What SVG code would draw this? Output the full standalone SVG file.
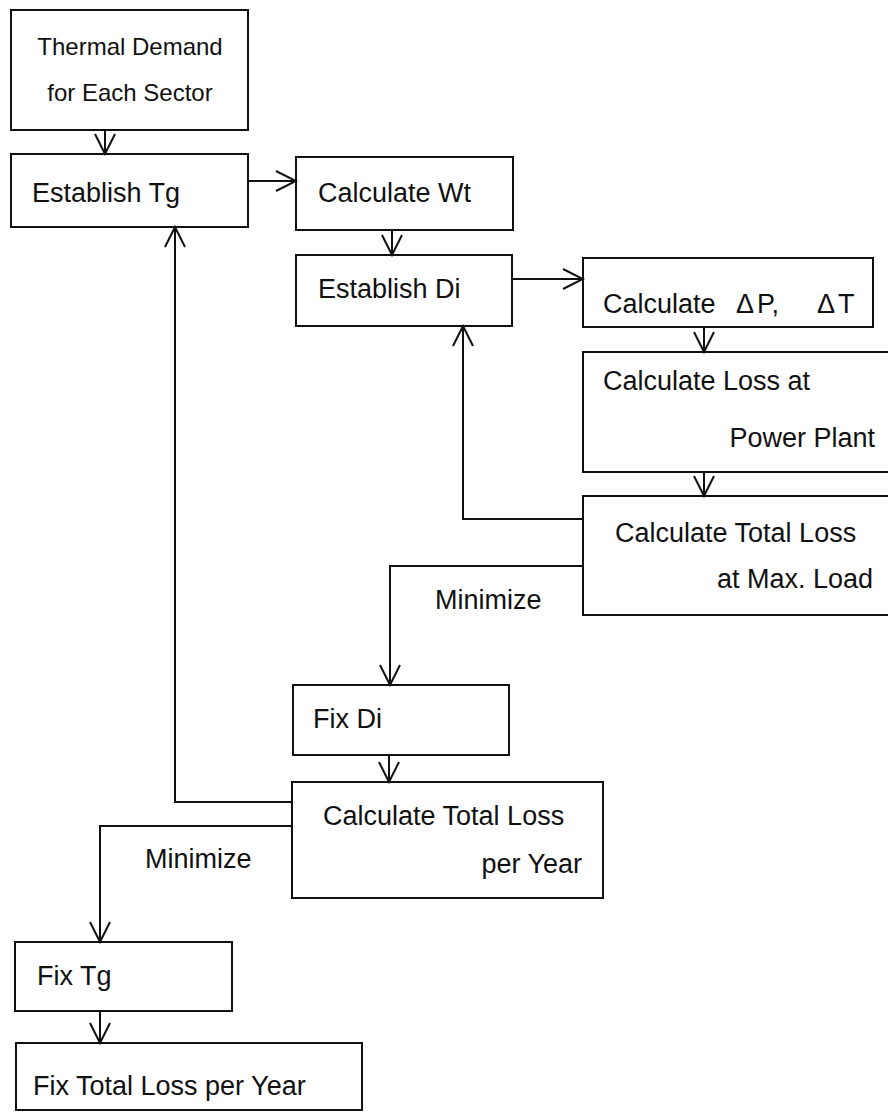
<svg xmlns="http://www.w3.org/2000/svg" width="888" height="1113" viewBox="0 0 888 1113">
<style>
.box{fill:none;stroke:#111;stroke-width:2}
.t{font-family:"Liberation Sans",Arial,sans-serif;font-size:27px;fill:#111}
.s{font-size:24px}
.c{fill:none;stroke:#111;stroke-width:2}
</style>
<defs>
<marker id="ah" viewBox="-22 -13 24 26" refX="0" refY="0" markerWidth="24" markerHeight="26" markerUnits="userSpaceOnUse" orient="auto">
<path d="M-20,-10 L0,0 L-20,10" fill="none" stroke="#111" stroke-width="2"/>
</marker>
</defs>
<rect width="888" height="1113" fill="#fff"/>
<g id="connectors">
<line class="c" x1="105" y1="130" x2="105" y2="154" marker-end="url(#ah)"/>
<line class="c" x1="248" y1="181" x2="296" y2="181" marker-end="url(#ah)"/>
<line class="c" x1="392" y1="230" x2="392" y2="255" marker-end="url(#ah)"/>
<line class="c" x1="512" y1="279" x2="583" y2="279" marker-end="url(#ah)"/>
<line class="c" x1="704" y1="327" x2="704" y2="352" marker-end="url(#ah)"/>
<line class="c" x1="704" y1="472" x2="704" y2="496" marker-end="url(#ah)"/>
<polyline class="c" points="583,519 463,519 463,326" marker-end="url(#ah)"/>
<polyline class="c" points="583,566 390,566 390,685" marker-end="url(#ah)"/>
<line class="c" x1="389" y1="755" x2="389" y2="782" marker-end="url(#ah)"/>
<polyline class="c" points="292,802 175,802 175,227" marker-end="url(#ah)"/>
<polyline class="c" points="292,826 100,826 100,942" marker-end="url(#ah)"/>
<line class="c" x1="100" y1="1011" x2="100" y2="1043" marker-end="url(#ah)"/>
<text class="t" x="435" y="609">Minimize</text>
<text class="t" x="145" y="868">Minimize</text>
</g>
<g id="n1"><rect class="box" x="11" y="10" width="237" height="120"/>
<text class="t s" x="130" y="55" text-anchor="middle">Thermal Demand</text>
<text class="t s" x="130" y="101" text-anchor="middle">for Each Sector</text></g>
<g id="n2"><rect class="box" x="11" y="154" width="237" height="73"/>
<text class="t" x="32" y="202">Establish Tg</text></g>
<g id="n3"><rect class="box" x="296" y="157" width="217" height="73"/>
<text class="t" x="318" y="202">Calculate Wt</text></g>
<g id="n4"><rect class="box" x="296" y="255" width="216" height="71"/>
<text class="t" x="318" y="298">Establish Di</text></g>
<g id="n5"><rect class="box" x="583" y="258" width="290" height="69"/>
<text class="t" x="603" y="313">Calculate</text>
<text class="t" x="736" y="313">Δ</text>
<text class="t" x="757" y="313">P,</text>
<text class="t" x="817" y="313">Δ</text>
<text class="t" x="838" y="313">T</text></g>
<g id="n6"><rect class="box" x="583" y="352" width="320" height="120"/>
<text class="t" x="603" y="390">Calculate Loss at</text>
<text class="t" x="875" y="447" text-anchor="end">Power Plant</text></g>
<g id="n7"><rect class="box" x="583" y="496" width="320" height="119"/>
<text class="t" x="615" y="542">Calculate Total Loss</text>
<text class="t" x="873" y="588" text-anchor="end">at Max. Load</text></g>
<g id="n8"><rect class="box" x="293" y="685" width="216" height="70"/>
<text class="t" x="313" y="728">Fix Di</text></g>
<g id="n9"><rect class="box" x="292" y="782" width="311" height="116"/>
<text class="t" x="323" y="825">Calculate Total Loss</text>
<text class="t" x="582" y="873" text-anchor="end">per Year</text></g>
<g id="n10"><rect class="box" x="15" y="942" width="217" height="69"/>
<text class="t" x="37" y="985">Fix Tg</text></g>
<g id="n11"><rect class="box" x="16" y="1043" width="346" height="67"/>
<text class="t" x="33" y="1095">Fix Total Loss per Year</text></g>
</svg>
